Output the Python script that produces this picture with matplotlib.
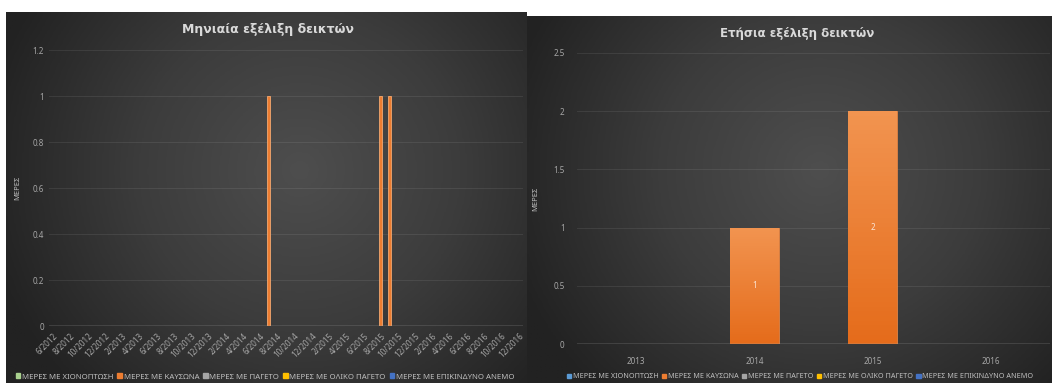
import numpy as np
import pandas as pd
import matplotlib
matplotlib.use('Agg')
import matplotlib.pyplot as plt
from matplotlib.colors import LinearSegmentedColormap
from matplotlib.patches import Patch
from matplotlib.ticker import FuncFormatter

plt.rcParams['font.family'] = ['Noto Sans', 'DejaVu Sans']

# ---- data ----
months = [f"{p.month}/{p.year}" for p in pd.period_range('2012-06', '2016-12', freq='M')]
heat_monthly = [0, 0, 0, 0, 0, 0, 0,          # 6/2012 - 12/2012
                0, 0, 0, 0, 0, 0, 0, 0, 0, 0, 0, 0,   # 2013
                0, 0, 0, 0, 0, 0, 1, 0, 0, 0, 0, 0,   # 2014
                0, 0, 0, 0, 0, 0, 0, 1, 1, 0, 0, 0,   # 2015
                0, 0, 0, 0, 0, 0, 0, 0, 0, 0, 0, 0]   # 2016
snow_monthly = [0] * len(months)
frost_monthly = [0] * len(months)
total_frost_monthly = [0] * len(months)
wind_monthly = [0] * len(months)

years = ['2013', '2014', '2015', '2016']
snow_yearly = [0, 0, 0, 0]
heat_yearly = [0, 1, 2, 0]
frost_yearly = [0, 0, 0, 0]
total_frost_yearly = [0, 0, 0, 0]
wind_yearly = [0, 0, 0, 0]

series_names = ['ΜΕΡΕΣ ΜΕ ΧΙΟΝΟΠΤΩΣΗ', 'ΜΕΡΕΣ ΜΕ ΚΑΥΣΩΝΑ', 'ΜΕΡΕΣ ΜΕ ΠΑΓΕΤΟ',
                'ΜΕΡΕΣ ΜΕ ΟΛΙΚΟ ΠΑΓΕΤΟ', 'ΜΕΡΕΣ ΜΕ ΕΠΙΚΙΝΔΥΝΟ ΑΝΕΜΟ']
left_colors = ['#a9d18e', '#ed7d31', '#a5a5a5', '#ffc000', '#4472c4']
right_colors = ['#5b9bd5', '#ed7d31', '#a5a5a5', '#ffc000', '#4472c4']

W, H = 1052, 383
fig = plt.figure(figsize=(W / 100, H / 100), dpi=100, facecolor='white')


def box(x0, y0, x1, y1):
    return [x0 / W, 1 - y1 / H, (x1 - x0) / W, (y1 - y0) / H]


bg_cmap = LinearSegmentedColormap.from_list('bg', ['#4e4e4e', '#3c3c3c', '#222222'])


def panel(x0, y0, x1, y1, cx, cy):
    bg = fig.add_axes(box(x0, y0, x1, y1), zorder=0)
    xs = np.linspace(x0, x1, 200)
    ys = np.linspace(y0, y1, 100)
    X, Y = np.meshgrid(xs, ys)
    r = np.sqrt(((X - cx) / ((x1 - x0) * 0.62)) ** 2 + ((Y - cy) / ((y1 - y0) * 0.85)) ** 2)
    bg.imshow(np.clip(r, 0, 1), cmap=bg_cmap, vmin=0, vmax=1, aspect='auto')
    bg.axis('off')


panel(6, 12, 527, 383, 300, 170)
panel(527, 16, 1052, 383, 820, 170)

bar_cmap = LinearSegmentedColormap.from_list('bar', ['#e56c1b', '#f29450'])


def gradient_bars(ax, bars):
    for b in bars:
        h = b.get_height()
        if h <= 0:
            continue
        x, w = b.get_x(), b.get_width()
        im = ax.imshow(np.linspace(1, 0, 50).reshape(-1, 1), cmap=bar_cmap,
                       extent=[x, x + w, 0, h], aspect='auto', zorder=3)
        im.set_clip_path(b)
        b.set_facecolor('none')


def style(ax):
    ax.set_facecolor('none')
    for s in ax.spines.values():
        s.set_visible(False)
    ax.tick_params(length=0, colors='#a6a6a6', labelsize=5.8)
    ax.grid(axis='y', color='#ffffff', alpha=0.08, lw=0.8)
    ax.set_axisbelow(True)
    ax.axhline(0, color='#a6a6a6', lw=1, zorder=4)
    ax.yaxis.set_major_formatter(FuncFormatter(lambda v, p: f'{v:g}'))


# ---- left: monthly ----
ax1 = fig.add_axes(box(49, 50, 523, 326), zorder=1)
style(ax1)
xm = np.arange(len(months))
left_series = [snow_monthly, heat_monthly, frost_monthly, total_frost_monthly, wind_monthly]
for vals, col in zip(left_series, left_colors):
    ax1.bar(xm, vals, width=0.34, color=col, edgecolor='#f4a870', lw=0.6, zorder=3)
ax1.set_xlim(-0.5, len(months) - 0.5)
ax1.set_ylim(0, 1.2)
ax1.set_yticks(np.arange(0, 1.21, 0.2))
ax1.set_xticks(xm[::2])
ax1.set_xticklabels(months[::2], rotation=45, ha='right', rotation_mode='anchor')
ax1.tick_params(axis='x', pad=4)
ax1.set_ylabel('ΜΕΡΕΣ', color='#bfbfbf', fontsize=5.5, labelpad=8)

# ---- right: yearly ----
ax2 = fig.add_axes(box(577, 53, 1050, 344), zorder=1)
style(ax2)
xy = np.arange(len(years))
right_series = [snow_yearly, heat_yearly, frost_yearly, total_frost_yearly, wind_yearly]
for i, (vals, col) in enumerate(zip(right_series, right_colors)):
    bars = ax2.bar(xy, vals, width=0.41, color=col, edgecolor='#f08a45', lw=0.6, zorder=3)
    if i == 1:
        gradient_bars(ax2, bars)
        for b, v in zip(bars, vals):
            if v > 0:
                ax2.text(b.get_x() + b.get_width() / 2, v / 2, f'{v}', ha='center', va='center',
                         color='#fbe5d6', fontsize=5.8, zorder=5)
ax2.set_xlim(-0.5, len(years) - 0.5)
ax2.set_ylim(0, 2.5)
ax2.set_yticks(np.arange(0, 2.51, 0.5))
ax2.set_xticks(xy)
ax2.set_xticklabels(years)
ax2.tick_params(axis='x', pad=9)
ax2.tick_params(axis='y', pad=9)
ax2.set_ylabel('ΜΕΡΕΣ', color='#bfbfbf', fontsize=5.5, labelpad=10)

# titles
fig.text(268 / W, 1 - 30 / H, 'Μηνιαία εξέλιξη δεικτών', ha='center', va='center',
         color='#d9d9d9', fontsize=9, fontweight='bold', family=['DejaVu Sans'])
fig.text(797 / W, 1 - 33 / H, 'Ετήσια εξέλιξη δεικτών', ha='center', va='center',
         color='#d9d9d9', fontsize=8.5, fontweight='bold', family=['DejaVu Sans'])

# legends
for cols, cx, fs in [(left_colors, 265, 5.6), (right_colors, 800, 5.2)]:
    handles = [Patch(color=c, label=n) for c, n in zip(cols, series_names)]
    fig.legend(handles=handles, loc='center', bbox_to_anchor=(cx / W, 1 - 377 / H), ncol=5,
               frameon=False, fontsize=fs, labelcolor='#bfbfbf', handlelength=0.6,
               handleheight=0.6, handletextpad=0.2, columnspacing=0.5, borderpad=0)

fig.savefig('out.png', dpi=100, facecolor='white')
